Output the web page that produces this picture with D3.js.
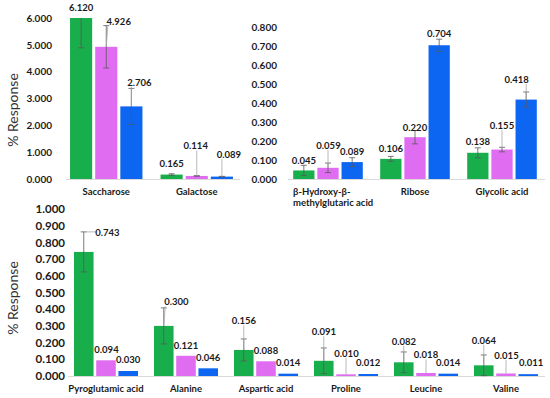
<!DOCTYPE html>
<html lang="en">
<head>
<meta charset="utf-8">
<title>% Response</title>
<script type="text/javascript" src="https://cdn.jsdelivr.net/npm/d3@7"></script>
<style>
  body { margin: 0; background: #fff; }
  text { font-family: Lato, "Open Sans", sans-serif; }
</style>
</head>
<body>
<script type="text/javascript">
    // --- data: three panels, three samples per compound ---
    var catsTopLeft = ["Saccharose", "Galactose"];
    var s1TopLeft = [6.120, 0.165];
    var s2TopLeft = [4.926, 0.114];
    var s3TopLeft = [2.706, 0.089];
    var e1TopLeft = [1.23, 0.03];
    var e2TopLeft = [0.79, 0.01];
    var e3TopLeft = [0.67, 0.01];
    var ticksTopLeft = [0, 1, 2, 3, 4, 5, 6];

    var catsTopRight = ["β-Hydroxy-β-|methylglutaric acid", "Ribose", "Glycolic acid"];
    var s1TopRight = [0.045, 0.106, 0.138];
    var s2TopRight = [0.059, 0.220, 0.155];
    var s3TopRight = [0.089, 0.704, 0.418];
    var e1TopRight = [0.027, 0.013, 0.026];
    var e2TopRight = [0.025, 0.035, 0.012];
    var e3TopRight = [0.023, 0.032, 0.040];
    var ticksTopRight = [0, 0.1, 0.2, 0.3, 0.4, 0.5, 0.6, 0.7, 0.8];

    var catsBottom = ["Pyroglutamic acid", "Alanine", "Aspartic acid", "Proline", "Leucine", "Valine"];
    var s1Bottom = [0.743, 0.300, 0.156, 0.091, 0.082, 0.064];
    var s2Bottom = [0.094, 0.121, 0.088, 0.010, 0.018, 0.015];
    var s3Bottom = [0.030, 0.046, 0.014, 0.012, 0.014, 0.011];
    var e1Bottom = [0.12, 0.108, 0.066, 0.077, 0.062, 0.062];
    var e2Bottom = [0, 0, 0, 0, 0, 0];
    var e3Bottom = [0, 0, 0, 0, 0, 0];
    var ticksBottom = [0, 0.1, 0.2, 0.3, 0.4, 0.5, 0.6, 0.7, 0.8, 0.9, 1.0];

    var colors = ["#17ae4b", "#e06cf2", "#0c66f2"];

    // label nudges per bar [dx, dy, leader] relative to the top of the bar
    // leader: 0 none, 1 from bar top, 2 from error cap
    var nudgeTopLeft = [
        [[0, -10, 0], [12.5, -25, 1], [8, -24, 1]],
        [[0, -11, 0], [-1, -30, 1], [7, -22, 1]]
    ];
    var nudgeTopRight = [
        [[0, -10, 0], [0.5, -22, 1], [0, -10, 0]],
        [[0, -10, 0], [0, -10, 0], [0, -12, 0]],
        [[0, -11, 0], [0, -24, 1], [-9.5, -20, 1]]
    ];
    var nudgeBottom = [
        [[23.5, -19, 2], [0.5, -11, 0], [0, -11, 0]],
        [[12.5, -24, 1], [0, -10, 0], [0, -11, 0]],
        [[0, -29, 1], [0, -11, 0], [0, -11, 0]],
        [[0, -29, 1], [0.5, -21, 1], [0, -11, 0]],
        [[0, -21, 1], [0, -18, 1], [0, -11, 0]],
        [[0, -25, 1], [0.5, -18, 1], [3, -11, 0]]
    ];

    var svg = d3.select("body").append("svg")
        .attr("width", 550)
        .attr("height", 398);

    function drawPanel(p) {
        var g = svg.append("g");
        var x = d3.scaleBand().domain(d3.range(p.cats.length))
            .range(p.xRange).paddingInner(0.2).paddingOuter(0.1);
        var xi = d3.scaleBand().domain([0, 1, 2])
            .range([0, x.bandwidth()]).paddingInner(0.12);
        var y = d3.scaleLinear().domain(p.domain).range(p.yRange);
        var yMax = p.domain[1];

        // tick labels (no axis line on y)
        var yAxis = d3.axisLeft(y).tickValues(p.ticks).tickFormat(d3.format(".3f")).tickSize(0).tickPadding(0);
        var ga = g.append("g").attr("transform", "translate(" + p.tickX + ",0)").call(yAxis);
        ga.select(".domain").remove();
        ga.selectAll("text")
            .attr("fill", "#1a1a1a")
            .attr("font-weight", "bold")
            .attr("font-size", p.tickSize)
            .attr("font-family", "Lato, sans-serif");

        // baseline
        g.append("line")
            .attr("x1", p.axisX[0]).attr("x2", p.axisX[1])
            .attr("y1", y(0) + 0.5).attr("y2", y(0) + 0.5)
            .attr("stroke", "#d9d9d9").attr("stroke-width", 1);

        var rows = [];
        p.cats.forEach(function (c, i) {
            for (var k = 0; k < 3; k++) {
                rows.push({ cat: i, k: k, v: p.series[k][i], e: p.errs[k][i], n: p.nudge[i][k] });
            }
        });

        function cx(d) { return x(d.cat) + xi(d.k) + xi.bandwidth() / 2; }
        function top(d) { return y(Math.min(d.v, yMax)); }
        function errTop(d) { return y(Math.min(d.v + d.e, yMax)); }

        g.selectAll(".bar").data(rows).enter().append("rect")
            .attr("class", "bar")
            .attr("x", function (d) { return x(d.cat) + xi(d.k); })
            .attr("width", xi.bandwidth())
            .attr("y", top)
            .attr("height", function (d) { return y(0) - top(d); })
            .attr("fill", function (d) { return colors[d.k]; });

        // error bars
        var eb = g.selectAll(".err").data(rows.filter(function (d) { return d.e > 0; }))
            .enter().append("g").attr("class", "err")
            .attr("stroke", "#595959").attr("stroke-width", 0.8);
        eb.append("line")
            .attr("x1", cx).attr("x2", cx)
            .attr("y1", errTop)
            .attr("y2", function (d) { return y(Math.max(d.v - d.e, 0)); });
        eb.filter(function (d) { return d.v + d.e <= yMax; }).append("line")
            .attr("x1", function (d) { return cx(d) - 3; })
            .attr("x2", function (d) { return cx(d) + 3; })
            .attr("y1", errTop).attr("y2", errTop);
        eb.append("line")
            .attr("x1", function (d) { return cx(d) - 3; })
            .attr("x2", function (d) { return cx(d) + 3; })
            .attr("y1", function (d) { return y(Math.max(d.v - d.e, 0)); })
            .attr("y2", function (d) { return y(Math.max(d.v - d.e, 0)); });

        // leader lines
        g.selectAll(".leader").data(rows.filter(function (d) { return d.n[2] > 0; }))
            .enter().append("line")
            .attr("class", "leader")
            .attr("stroke", "#a6a6a6").attr("stroke-width", 0.8)
            .each(function (d) {
                var sx = cx(d) + (d.n[2] == 2 ? 3 : 0);
                var sy = d.n[2] == 2 ? errTop(d) : top(d);
                var lx = cx(d) + d.n[0], ly = top(d) + d.n[1];
                var ex = Math.max(lx - 11, Math.min(sx, lx + 11));
                var ey = Math.max(ly - 4.5, Math.min(sy, ly + 4.5));
                d3.select(this).attr("x1", sx).attr("y1", sy).attr("x2", ex).attr("y2", ey);
            });

        // value labels
        g.selectAll(".val").data(rows).enter().append("text")
            .attr("class", "val")
            .attr("x", function (d) { return cx(d) + d.n[0]; })
            .attr("y", function (d) { return top(d) + d.n[1]; })
            .attr("dy", "0.35em")
            .attr("text-anchor", "middle")
            .attr("font-size", 9.5)
            .attr("font-weight", "bold")
            .attr("fill", "#1a1a1a")
            .text(function (d) { return d3.format(".3f")(d.v); });

        // category labels
        var cl = g.selectAll(".cat").data(p.cats).enter().append("text")
            .attr("class", "cat")
            .attr("x", function (d, i) { return x(i) + x.bandwidth() / 2; })
            .attr("y", p.catY)
            .attr("dy", "0.35em")
            .attr("text-anchor", "middle")
            .attr("font-size", p.catSize)
            .attr("font-weight", "bold")
            .attr("fill", "#1a1a1a");
        cl.each(function (d) {
            var parts = d.split("|");
            var t = d3.select(this);
            parts.forEach(function (s, j) {
                t.append("tspan")
                    .attr("x", t.attr("x"))
                    .attr("dy", j == 0 ? "0.35em" : "1.1em")
                    .text(s);
            });
            if (parts.length > 1) {
                // wrapped label is left aligned under its group
                var x0 = +t.attr("x") - 35;
                t.selectAll("tspan").attr("x", x0).attr("text-anchor", "start");
            }
        });

        if (p.yTitle) {
            svg.append("text")
                .attr("transform", "translate(" + p.yTitle[0] + "," + p.yTitle[1] + ") rotate(-90)")
                .attr("text-anchor", "middle")
                .attr("dy", "0.35em")
                .attr("font-size", 14)
                .attr("fill", "#333")
                .text("% Response");
        }
    }

    drawPanel({
        cats: catsTopLeft,
        series: [s1TopLeft, s2TopLeft, s3TopLeft],
        errs: [e1TopLeft, e2TopLeft, e3TopLeft],
        nudge: nudgeTopLeft,
        ticks: ticksTopLeft, domain: [0, 6],
        xRange: [61, 242], yRange: [179, 18],
        axisX: [66, 240], tickX: 52, tickSize: 10,
        catY: 192, catSize: 9.5, yTitle: [13, 110]
    });
    drawPanel({
        cats: catsTopRight,
        series: [s1TopRight, s2TopRight, s3TopRight],
        errs: [e1TopRight, e2TopRight, e3TopRight],
        nudge: nudgeTopRight,
        ticks: ticksTopRight, domain: [0, 0.8],
        xRange: [284.5, 545.5], yRange: [179, 27],
        axisX: [288, 545], tickX: 277, tickSize: 10,
        catY: 192, catSize: 9.5
    });
    drawPanel({
        cats: catsBottom,
        series: [s1Bottom, s2Bottom, s3Bottom],
        errs: [e1Bottom, e2Bottom, e3Bottom],
        nudge: nudgeBottom,
        ticks: ticksBottom, domain: [0, 1],
        xRange: [66, 546], yRange: [376, 209],
        axisX: [68, 545], tickX: 65, tickSize: 11.5,
        catY: 389, catSize: 9.5, yTitle: [13, 298]
    });
</script>
</body>
</html>
